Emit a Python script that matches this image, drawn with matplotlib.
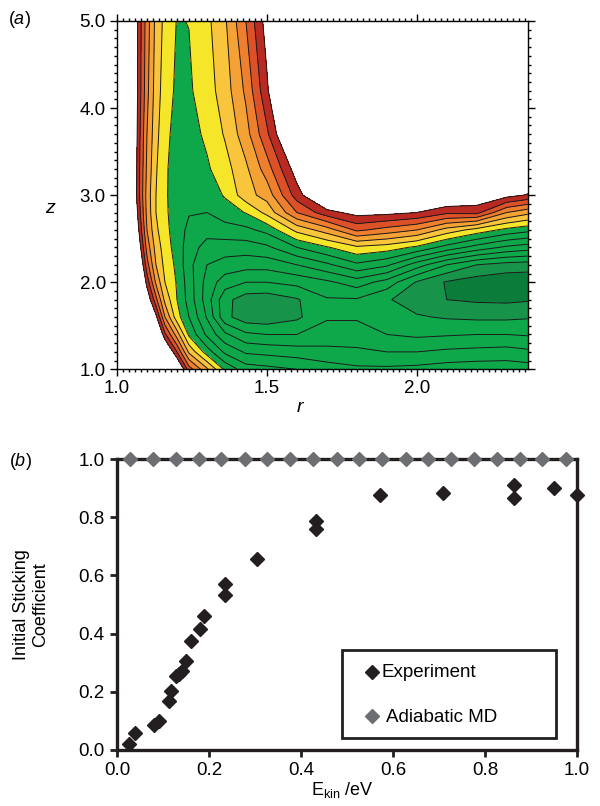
import numpy as np
import matplotlib
matplotlib.use("Agg")
import matplotlib.pyplot as plt
from matplotlib.patches import Rectangle
from matplotlib.ticker import MultipleLocator, FormatStrFormatter

plt.rcParams['font.family'] = ['Liberation Sans', 'DejaVu Sans']
plt.rcParams['mathtext.fontset'] = 'custom'
plt.rcParams['mathtext.rm'] = 'Liberation Sans'
plt.rcParams['mathtext.it'] = 'Liberation Sans:italic'

# --- panel (a): potential energy surface, contour level index ---
r_grid = [1.00, 1.04, 1.07, 1.10, 1.13, 1.16, 1.20, 1.24, 1.30, 1.36, 1.43,
          1.50, 1.60, 1.70, 1.80, 1.90, 2.00, 2.10, 2.20, 2.30, 2.37]
z_grid = [1.0, 1.2, 1.4, 1.6, 1.8, 2.0, 2.2, 2.4, 2.6, 2.8, 3.0, 3.3, 3.7, 4.2, 5.0]
pes = [
    [20, 18, 18, 18, 18, 18, 16, 12.5, 10.2, 7.8, 6.5, 6.3, 6.0, 5.5, 5.2, 5.2, 5.3, 5.5, 5.6, 5.6, 5.5],
    [20, 18, 18, 18, 18, 16, 13, 9.8, 7.5, 5.8, 4.85, 4.7, 4.5, 4.3, 4.2, 4.0, 4.0, 4.2, 4.3, 4.4, 4.2],
    [20, 18, 18, 18, 16.5, 13.2, 10.5, 7.8, 5.8, 4.2, 3.2, 3.0, 3.0, 3.4, 3.4, 3.0, 2.8, 2.9, 3.0, 3.0, 2.9],
    [20, 18, 18, 16.5, 14.3, 11.0, 8.4, 7.0, 4.9, 2.3, 1.4, 1.3, 1.8, 2.9, 2.9, 2.3, 2.1, 1.9, 1.8, 1.8, 1.9],
    [20, 18, 18, 15, 12.3, 9.7, 8.0, 6.6, 4.5, 2.3, 1.5, 1.4, 1.9, 2.9, 2.9, 2.1, 1.5, 1.0, 0.85, 0.8, 0.9],
    [20, 18, 17, 13.6, 10.8, 9.0, 7.9, 6.5, 4.6, 3.5, 3.0, 3.0, 3.3, 3.8, 4.5, 3.6, 1.9, 0.9, 0.5, 0.3, 0.3],
    [20, 18, 16, 12.4, 10.0, 8.7, 7.75, 6.3, 5.0, 4.6, 4.4, 4.4, 5.0, 5.8, 6.8, 6.2, 4.5, 3.0, 2.0, 1.6, 1.5],
    [20, 18, 15, 11.6, 9.6, 8.5, 7.55, 6.5, 5.6, 5.5, 5.5, 5.8, 7.0, 7.9, 8.8, 8.5, 7.8, 6.6, 5.6, 4.8, 4.5],
    [20, 18, 14.3, 11.0, 9.2, 8.35, 7.4, 6.8, 6.4, 6.6, 6.75, 7.3, 9.3, 10.5, 12.2, 11.6, 11.0, 9.6, 8.6, 7.7, 7.3],
    [20, 18, 13.8, 10.7, 9.0, 8.25, 7.3, 7.05, 7.0, 7.5, 8.05, 9.3, 12.0, 13.6, 14.4, 14.3, 14.0, 13.2, 13.3, 11.0, 10.3],
    [19, 16.5, 13.5, 10.6, 9.0, 8.2, 7.3, 7.1, 7.4, 8.1, 9.6, 10.4, 13.5, 16, 18, 17, 16.5, 15.5, 15, 14.4, 13.9],
    [19, 17, 13.5, 10.8, 9.1, 8.2, 7.4, 7.3, 7.85, 8.6, 9.8, 11.5, 14.6, 18, 20, 20, 20, 20, 19, 17, 16],
    [20, 18, 13.6, 11.0, 9.3, 8.3, 7.6, 7.6, 8.2, 9.1, 10.6, 12.8, 16.5, 20, 20, 20, 20, 20, 20, 20, 20],
    [20, 18, 13.8, 11.3, 9.5, 8.5, 7.8, 7.85, 8.55, 9.5, 11.2, 13.8, 18, 20, 20, 20, 20, 20, 20, 20, 20],
    [20, 18, 13.8, 11.5, 9.7, 8.7, 7.95, 8.02, 8.75, 9.85, 12.0, 14.5, 20, 20, 20, 20, 20, 20, 20, 20, 20],
]
pes_levels = [0, 1, 2, 3, 4, 5, 6, 7, 8, 9, 10, 11, 12, 13, 14]
pes_colors = ['#0c7c3a', '#17934a', '#0ea84b', '#0ea84b', '#0ea84b', '#0ea84b',
              '#0ea84b', '#0ea84b', '#f5e629', '#f9c53c', '#f4a236', '#ee7f2e',
              '#dc5128', '#b92b22']

# --- panel (b): initial sticking coefficient ---
exp_ekin = [0.025, 0.039, 0.081, 0.092, 0.114, 0.117, 0.128, 0.135, 0.142, 0.150,
            0.161, 0.181, 0.190, 0.235, 0.235, 0.305, 0.433, 0.433, 0.572, 0.709,
            0.862, 0.862, 0.950, 1.000]
exp_s0 = [0.02, 0.06, 0.085, 0.10, 0.17, 0.203, 0.253, 0.26, 0.27, 0.307,
          0.376, 0.416, 0.462, 0.57, 0.534, 0.656, 0.787, 0.76, 0.875, 0.884,
          0.909, 0.867, 0.902, 0.875]
md_ekin = [0.028, 0.079, 0.128, 0.178, 0.227, 0.278, 0.327, 0.377, 0.427, 0.478,
           0.526, 0.577, 0.628, 0.677, 0.725, 0.776, 0.825, 0.876, 0.924, 0.975]
md_s0 = [1.0, 1.0, 1.0, 1.0, 1.0, 1.0, 1.0, 1.0, 1.0, 1.0,
         1.0, 1.0, 1.0, 1.0, 1.0, 1.0, 1.0, 1.0, 1.0, 1.0]

BLACK = '#231f20'
GREY = '#6d6e71'

fig = plt.figure(figsize=(6, 8.06), dpi=100)

# ---- (a) contour plot ----
ax1 = fig.add_axes([0.195, 0.5418, 0.6845, 0.4322])
R, Z = np.meshgrid(r_grid, z_grid)
E = np.array(pes)
ax1.contourf(R, Z, E, levels=pes_levels, colors=pes_colors)
ax1.contour(R, Z, E, levels=pes_levels[1:], colors='#1a1a1a', linewidths=0.7)
ax1.set_xlim(1.0, 2.37)
ax1.set_ylim(1.0, 5.0)
ax1.xaxis.set_major_locator(MultipleLocator(0.5))
ax1.xaxis.set_minor_locator(MultipleLocator(0.02))
ax1.yaxis.set_major_locator(MultipleLocator(1.0))
ax1.yaxis.set_minor_locator(MultipleLocator(0.1))
ax1.xaxis.set_major_formatter(FormatStrFormatter('%.1f'))
ax1.yaxis.set_major_formatter(FormatStrFormatter('%.1f'))
ax1.tick_params(which='both', direction='out', top=True, right=True, labelsize=13.5, width=1.0)
ax1.tick_params(which='major', length=5, pad=3)
ax1.tick_params(which='minor', length=2.5)
for s in ax1.spines.values():
    s.set_linewidth(1.0)
ax1.set_xlabel('r', style='italic', fontsize=14)
ax1.xaxis.set_label_coords(0.446, -0.111)
ax1.xaxis.label.set_va('center')
ax1.set_ylabel('z', style='italic', fontsize=14, rotation=0)
ax1.yaxis.set_label_coords(-0.163, 0.463)
ax1.yaxis.label.set_va('center')
fig.text(19 / 600, 1 - 20 / 806, '($\\mathit{a}$)', ha='center', va='center', fontsize=13)

# ---- (b) sticking coefficient ----
ax2 = fig.add_axes([0.195, 0.0695, 0.7667, 0.361])
ax2.plot(md_ekin, md_s0, linestyle='none', marker='D', markersize=7.5,
         color=GREY, clip_on=False, zorder=5)
ax2.plot(exp_ekin, exp_s0, linestyle='none', marker='D', markersize=7.5,
         color=BLACK, clip_on=False, zorder=5)
ax2.set_xlim(0, 1.0)
ax2.set_ylim(0, 1.0)
ax2.xaxis.set_major_locator(MultipleLocator(0.2))
ax2.yaxis.set_major_locator(MultipleLocator(0.2))
ax2.xaxis.set_major_formatter(FormatStrFormatter('%.1f'))
ax2.yaxis.set_major_formatter(FormatStrFormatter('%.1f'))
ax2.tick_params(direction='out', length=5, width=2, labelsize=13.5, pad=4, color=BLACK)
for s in ax2.spines.values():
    s.set_linewidth(2.4)
    s.set_color(BLACK)
ax2.set_ylabel('Initial Sticking\nCoefficient', fontsize=13, linespacing=1.1)
ax2.yaxis.set_label_coords(-0.187, 0.5)
ax2.yaxis.label.set_va('center')
ax2.set_xlabel('E$_{\\mathrm{kin}}$ /eV', fontsize=13)
ax2.xaxis.set_label_coords(0.49, -0.137)
ax2.xaxis.label.set_va('center')

# legend box
ax2.add_patch(Rectangle((0.49, 0.04), 0.465, 0.305, transform=ax2.transAxes,
                        facecolor='white', edgecolor=BLACK, linewidth=2, zorder=6))
ax2.plot([0.555], [0.267], transform=ax2.transAxes, marker='D', markersize=7.5,
         color=BLACK, linestyle='none', zorder=7)
ax2.plot([0.555], [0.117], transform=ax2.transAxes, marker='D', markersize=7.5,
         color=GREY, linestyle='none', zorder=7)
ax2.text(0.575, 0.267, 'Experiment', transform=ax2.transAxes, fontsize=13.5,
         va='center', ha='left', zorder=7)
ax2.text(0.585, 0.112, 'Adiabatic MD', transform=ax2.transAxes, fontsize=13.5,
         va='center', ha='left', zorder=7)
fig.text(20 / 600, 1 - 461 / 806, '($\\mathit{b}$)', ha='center', va='center', fontsize=13)

fig.savefig('out.png', dpi=100)
